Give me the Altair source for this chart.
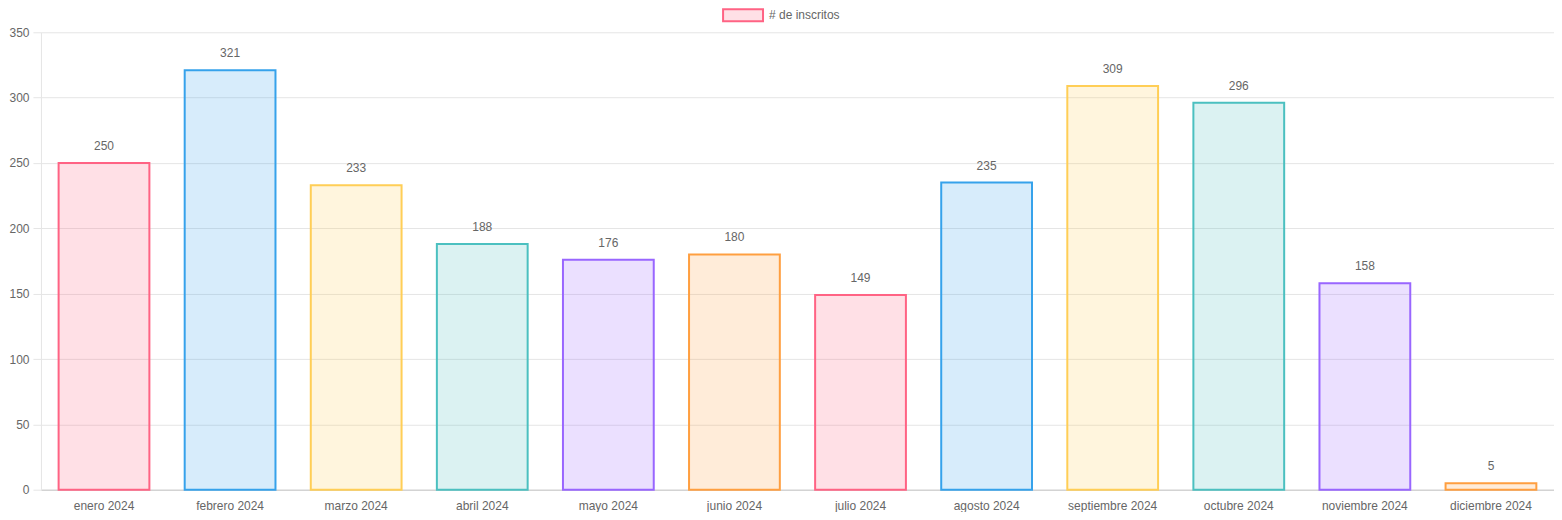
import altair as alt
import pandas as pd

months = ["enero 2024", "febrero 2024", "marzo 2024", "abril 2024", "mayo 2024", "junio 2024",
          "julio 2024", "agosto 2024", "septiembre 2024", "octubre 2024", "noviembre 2024", "diciembre 2024"]
inscritos = [250, 321, 233, 188, 176, 180, 149, 235, 309, 296, 158, 5]
colors = ["#FF6384", "#36A2EB", "#FFCE56", "#4BC0C0", "#9966FF", "#FF9F40",
          "#FF6384", "#36A2EB", "#FFCE56", "#4BC0C0", "#9966FF", "#FF9F40"]
legend_label = ["# de inscritos"]

df = pd.DataFrame({"mes": months, "n": inscritos})
W, H = 1515, 458

x = alt.X("mes:N", sort=months, title=None,
          scale=alt.Scale(paddingInner=0.28, paddingOuter=0.14),
          axis=alt.Axis(labelAngle=0, ticks=False, labelPadding=11, domainColor="#c8c8c8",
                        labelColor="#666", labelFont="Liberation Sans", labelFontSize=12, grid=False))
y = alt.Y("n:Q", title=None, scale=alt.Scale(domain=[0, 350], nice=False),
          axis=alt.Axis(values=list(range(0, 351, 50)), tickSize=8, tickColor="#e5e5e5",
                        gridColor="#e5e5e5", domainColor="#e5e5e5", labelPadding=4,
                        labelColor="#666", labelFont="Liberation Sans", labelFontSize=12))
cscale = alt.Scale(domain=months, range=colors)

bars = alt.Chart(df).mark_bar(fillOpacity=0.2, strokeWidth=2).encode(
    x=x, y=y,
    fill=alt.Fill("mes:N", scale=cscale, legend=None),
    stroke=alt.Stroke("mes:N", scale=cscale, legend=None),
)
labels = alt.Chart(df).mark_text(dy=-17, font="Liberation Sans", fontSize=12, color="#666").encode(
    x=alt.X("mes:N", sort=months), y="n:Q", text="n:Q")

ldf = pd.DataFrame({"label": legend_label})
lrect = alt.Chart(ldf).mark_rect(fill="#FF6384", fillOpacity=0.2, stroke="#FF6384", strokeWidth=2).encode(
    x=alt.value(683), x2=alt.value(723), y=alt.value(-23), y2=alt.value(-11))
ltext = alt.Chart(ldf).mark_text(align="left", baseline="middle", font="Liberation Sans",
                                 fontSize=12, color="#666").encode(
    x=alt.value(729), y=alt.value(-17), text="label:N")

chart = alt.layer(bars, labels, lrect, ltext).properties(width=W, height=H, padding=0).configure_view(
    stroke=None).configure_axis(labelFlush=False)
chart.save("out.html", embed_options={"renderer": "svg", "actions": False})
